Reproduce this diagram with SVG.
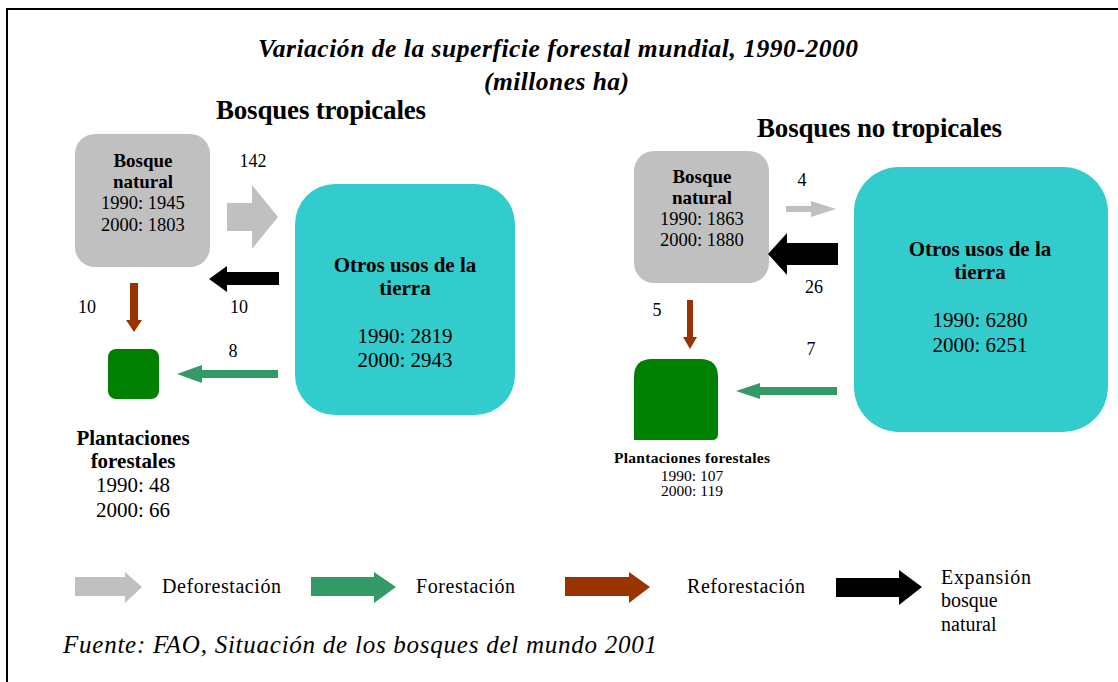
<svg xmlns="http://www.w3.org/2000/svg" width="1118" height="682" viewBox="0 0 1118 682">
<style>
text{font-family:"Liberation Serif","Times New Roman",serif;fill:#000}
.b{font-weight:bold}
.bi{font-weight:bold;font-style:italic}
.c{text-anchor:middle}
.gray{fill:#C0C0C0}
.cyan{fill:#33CCCC}
.dg{fill:#008000}
.ga{fill:#339966}
.ra{fill:#993300}
.ka{fill:#000}
.f18{font-size:18.5px}
.f21{font-size:21px}
.f15{font-size:15.5px}
.n{font-size:18px}
.lg{font-size:20px}
</style>
<rect x="7" y="9" width="1130" height="700" fill="#fff" stroke="#000" stroke-width="2"/>
<g id="titles">
<text class="bi" x="258" y="57" font-size="25.5" textLength="600">Variación de la superficie forestal mundial, 1990-2000</text>
<text class="bi" x="484" y="90" font-size="25.5" textLength="145">(millones ha)</text>
<text class="b" x="216" y="119" font-size="27" textLength="210">Bosques tropicales</text>
<text class="b" x="757" y="137" font-size="27" textLength="245">Bosques no tropicales</text>
</g>
<g id="trop-natural">
<rect class="gray" x="75" y="134" width="135" height="133" rx="20"/>
<text class="b c" x="143" y="167" font-size="19">Bosque</text>
<text class="b c" x="143" y="188" font-size="19">natural</text>
<text class="c f18" x="143" y="209">1990: 1945</text>
<text class="c f18" x="143" y="231">2000: 1803</text>
</g>
<g id="trop-otros">
<rect class="cyan" x="295" y="184" width="220" height="231" rx="40"/>
<text class="b c f21" x="405" y="272">Otros usos de la</text>
<text class="b c f21" x="405" y="295">tierra</text>
<text class="c f21" x="405" y="343">1990: 2819</text>
<text class="c f21" x="405" y="367">2000: 2943</text>
</g>
<g id="trop-plant">
<rect class="dg" x="108" y="349" width="51" height="50" rx="8"/>
<text class="b c" x="133" y="445" font-size="21">Plantaciones</text>
<text class="b c" x="133" y="468" font-size="21">forestales</text>
<text class="c" x="133" y="492" font-size="21">1990: 48</text>
<text class="c" x="133" y="517" font-size="21">2000: 66</text>
</g>
<g id="nt-natural">
<rect class="gray" x="634" y="151" width="135" height="132" rx="20"/>
<text class="b c" x="702" y="183" font-size="19">Bosque</text>
<text class="b c" x="702" y="204" font-size="19">natural</text>
<text class="c f18" x="702" y="225">1990: 1863</text>
<text class="c f18" x="702" y="246">2000: 1880</text>
</g>
<g id="nt-otros">
<rect class="cyan" x="854" y="167" width="254" height="265" rx="45"/>
<text class="b c f21" x="980" y="256">Otros usos de la</text>
<text class="b c f21" x="980" y="279">tierra</text>
<text class="c f21" x="980" y="327">1990: 6280</text>
<text class="c f21" x="980" y="352">2000: 6251</text>
</g>
<g id="nt-plant">
<path class="dg" d="M634,440 L634,377 Q634,359 652,359 L700,359 Q718,359 718,377 L718,434 Q718,440 712,440 Z"/>
<text class="b c f15" x="692" y="463" textLength="156">Plantaciones forestales</text>
<text class="c f15" x="692" y="481">1990: 107</text>
<text class="c f15" x="692" y="496">2000: 119</text>
</g>
<g id="connectors">
<polygon class="gray" points="227,203 252,203 252,185 278,217 252,249 252,231 227,231"/>
<polygon class="ka" points="279,272 227,272 227,266 209,279 227,292 227,285 279,285"/>
<polygon class="ra" points="130,283 138,283 138,320 142,320 134,332 126,320 130,320"/>
<polygon class="ga" points="278,370 202,370 202,365 177,374 202,383 202,378 278,378"/>
<polygon class="gray" points="786,206 811,206 811,201 836,209 811,217 811,212 786,212"/>
<polygon class="ka" points="838,243 787,243 787,233 768,254 787,275 787,265 838,265"/>
<polygon class="ra" points="687,300 693,300 693,337 697,337 690,349 683,337 687,337"/>
<polygon class="ga" points="837,387 760,387 760,383 736,391 760,399 760,395 837,395"/>
<text class="c n" x="253" y="167">142</text>
<text class="c n" x="87" y="313">10</text>
<text class="c n" x="239" y="313">10</text>
<text class="c n" x="233" y="357">8</text>
<text class="c n" x="802" y="186">4</text>
<text class="c n" x="814" y="293">26</text>
<text class="c n" x="657" y="316">5</text>
<text class="c n" x="811" y="355">7</text>
</g>
<g id="legend">
<polygon class="gray" points="75,577 125,577 125,572 142,587 125,603 125,596 75,596"/>
<text class="lg" x="162" y="593" textLength="119">Deforestación</text>
<polygon class="ga" points="311,577 374,577 374,572 396,587 374,603 374,596 311,596"/>
<text class="lg" x="416" y="593" textLength="99">Forestación</text>
<polygon class="ra" points="565,577 629,577 629,572 650,587 629,603 629,596 565,596"/>
<text class="lg" x="687" y="593" textLength="118">Reforestación</text>
<polygon class="ka" points="836,578 899,578 899,570 922,587 899,605 899,597 836,597"/>
<text class="lg" x="941" y="584" textLength="90">Expansión</text>
<text class="lg" x="941" y="607">bosque</text>
<text class="lg" x="941" y="631">natural</text>
</g>
<g id="source">
<text x="63" y="653" font-size="25" font-style="italic" textLength="594">Fuente: FAO, Situación de los bosques del mundo 2001</text>
</g>
</svg>
